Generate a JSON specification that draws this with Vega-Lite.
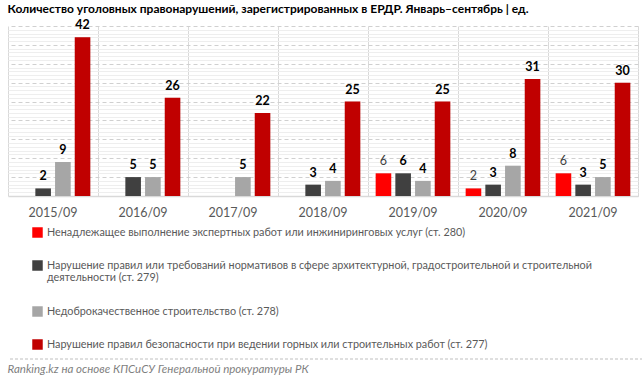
{
  "$schema": "https://vega.github.io/schema/vega-lite/v6.json",
  "autosize": {"type": "pad"},
  "padding": {"left": 7, "top": 3, "right": 5, "bottom": 4},
  "background": "white",
  "config": {"font": "Lato", "view": {"stroke": null}},
  "title": {"text": "Количество уголовных правонарушений, зарегистрированных в ЕРДР. Январь–сентябрь | ед.", "anchor": "start", "fontSize": 12, "fontWeight": "bold", "color": "#000000", "offset": 3, "font": "Lato"},
  "datasets": {
    "bars": [
      {"period": "2015/09", "series": "S2", "value": 2},
      {"period": "2015/09", "series": "S3", "value": 9},
      {"period": "2015/09", "series": "S4", "value": 42},
      {"period": "2016/09", "series": "S2", "value": 5},
      {"period": "2016/09", "series": "S3", "value": 5},
      {"period": "2016/09", "series": "S4", "value": 26},
      {"period": "2017/09", "series": "S3", "value": 5},
      {"period": "2017/09", "series": "S4", "value": 22},
      {"period": "2018/09", "series": "S2", "value": 3},
      {"period": "2018/09", "series": "S3", "value": 4},
      {"period": "2018/09", "series": "S4", "value": 25},
      {"period": "2019/09", "series": "S1", "value": 6},
      {"period": "2019/09", "series": "S2", "value": 6},
      {"period": "2019/09", "series": "S3", "value": 4},
      {"period": "2019/09", "series": "S4", "value": 25},
      {"period": "2020/09", "series": "S1", "value": 2},
      {"period": "2020/09", "series": "S2", "value": 3},
      {"period": "2020/09", "series": "S3", "value": 8},
      {"period": "2020/09", "series": "S4", "value": 31},
      {"period": "2021/09", "series": "S1", "value": 6},
      {"period": "2021/09", "series": "S2", "value": 3},
      {"period": "2021/09", "series": "S3", "value": 5},
      {"period": "2021/09", "series": "S4", "value": 30}
    ],
    "footer": [{"src": "Ranking.kz на основе КПСиСУ Генеральной прокуратуры РК"}]
  },
  "vconcat": [
    {
      "width": 630,
      "height": 170,
      "data": {"name": "bars"},
      "resolve": {"axis": {"y": "independent", "x": "independent"}},
      "layer": [
        {
          "mark": {"type": "bar", "color": "#000000", "opacity": 0.1, "xOffset": 3},
          "encoding": {
            "x": {"field": "period", "type": "nominal", "scale": {"paddingInner": 0, "paddingOuter": 0},
              "axis": {"orient": "bottom", "title": null, "labelAngle": 0, "grid": false, "ticks": false, "domain": true, "domainColor": "#d9d9d9", "domainWidth": 1.5, "labelColor": "#595959", "labelFontSize": 12.5, "labelPadding": 10, "labelFont": "Lato"}},
            "xOffset": {"field": "series", "type": "nominal", "scale": {"domain": ["S1", "S2", "S3", "S4"], "paddingInner": 0.21, "paddingOuter": 0.39}},
            "y": {"field": "value", "type": "quantitative", "scale": {"domain": [0, 45], "nice": false},
              "axis": {"values": [1,2,3,4,6,7,8,9,11,12,13,14,16,17,18,19,21,22,23,24,26,27,28,29,31,32,33,34,36,37,38,39,41,42,43,44], "grid": true, "gridColor": "#eeeeee", "labels": false, "ticks": false, "domain": false, "title": null}}
          }
        },
        {
          "mark": {"type": "bar"},
          "encoding": {
            "x": {"field": "period", "type": "nominal", "scale": {"paddingInner": 0, "paddingOuter": 0},
              "axis": {"orient": "top", "title": null, "tickBand": "extent", "grid": true, "gridColor": "#d9d9d9", "ticks": false, "domain": false, "labels": false}},
            "xOffset": {"field": "series", "type": "nominal", "scale": {"domain": ["S1", "S2", "S3", "S4"], "paddingInner": 0.21, "paddingOuter": 0.39}},
            "y": {"field": "value", "type": "quantitative", "scale": {"domain": [0, 45], "nice": false},
              "axis": {"values": [0, 5, 10, 15, 20, 25, 30, 35, 40, 45], "grid": true, "gridColor": "#d0d0d0", "gridDash": [4, 3], "labels": false, "ticks": false, "domain": false, "title": null}},
            "color": {"field": "series", "type": "nominal",
              "scale": {"domain": ["S1", "S2", "S3", "S4"], "range": ["#ff0000", "#404040", "#a6a6a6", "#c00000"]},
              "legend": {"title": null, "orient": "none", "legendX": 24, "legendY": 201, "direction": "vertical", "symbolType": "square", "symbolSize": 110, "symbolStrokeWidth": 0, "labelFontSize": 10.8, "labelColor": "#595959", "labelFont": "Lato", "labelOffset": 4, "labelLimit": 800, "rowPadding": 21, "padding": 0,
                "labelExpr": "datum.label == 'S1' ? 'Ненадлежащее выполнение экспертных работ или инжиниринговых услуг (ст. 280)' : datum.label == 'S2' ? ['Нарушение правил или требований нормативов в сфере архитектурной, градостроительной и строительной', 'деятельности (ст. 279)'] : datum.label == 'S3' ? 'Недоброкачественное строительство (ст. 278)' : 'Нарушение правил безопасности при ведении горных или строительных работ (ст. 277)'"}}
          }
        },
        {
          "transform": [{"filter": "datum.series != 'S1'"}],
          "mark": {"type": "text", "baseline": "bottom", "dy": -5, "fontSize": 12.5, "fontWeight": "bold", "color": "#000000", "font": "Lato"},
          "encoding": {
            "x": {"field": "period", "type": "nominal", "scale": {"paddingInner": 0, "paddingOuter": 0}, "axis": null},
            "xOffset": {"field": "series", "type": "nominal", "scale": {"domain": ["S1", "S2", "S3", "S4"], "paddingInner": 0.21, "paddingOuter": 0.39}},
            "y": {"field": "value", "type": "quantitative", "scale": {"domain": [0, 45], "nice": false}, "axis": null},
            "text": {"field": "value", "type": "quantitative"}
          }
        },
        {
          "transform": [{"filter": "datum.series == 'S1'"}],
          "mark": {"type": "text", "baseline": "bottom", "dy": -5, "fontSize": 12.5, "fontWeight": "normal", "color": "#404040", "font": "Lato"},
          "encoding": {
            "x": {"field": "period", "type": "nominal", "scale": {"paddingInner": 0, "paddingOuter": 0}, "axis": null},
            "xOffset": {"field": "series", "type": "nominal", "scale": {"domain": ["S1", "S2", "S3", "S4"], "paddingInner": 0.21, "paddingOuter": 0.39}},
            "y": {"field": "value", "type": "quantitative", "scale": {"domain": [0, 45], "nice": false}, "axis": null},
            "text": {"field": "value", "type": "quantitative"}
          }
        }
      ]
    },
    {
      "width": 635,
      "height": 1,
      "data": {"name": "footer"},
      "title": {"text": "Ranking.kz на основе КПСиСУ Генеральной прокуратуры РК", "orient": "bottom", "anchor": "start", "fontSize": 11.5, "fontStyle": "italic", "fontWeight": "normal", "color": "#7f7f7f", "offset": 4, "font": "Lato"},
      "mark": {"type": "rule", "strokeDash": [3, 2], "color": "#bfbfbf", "strokeWidth": 1},
      "encoding": {
        "y": {"datum": 0, "type": "quantitative", "axis": null, "scale": {"domain": [0, 1]}}
      }
    }
  ],
  "spacing": 8,
  "resolve": {"legend": {"color": "independent"}}
}
